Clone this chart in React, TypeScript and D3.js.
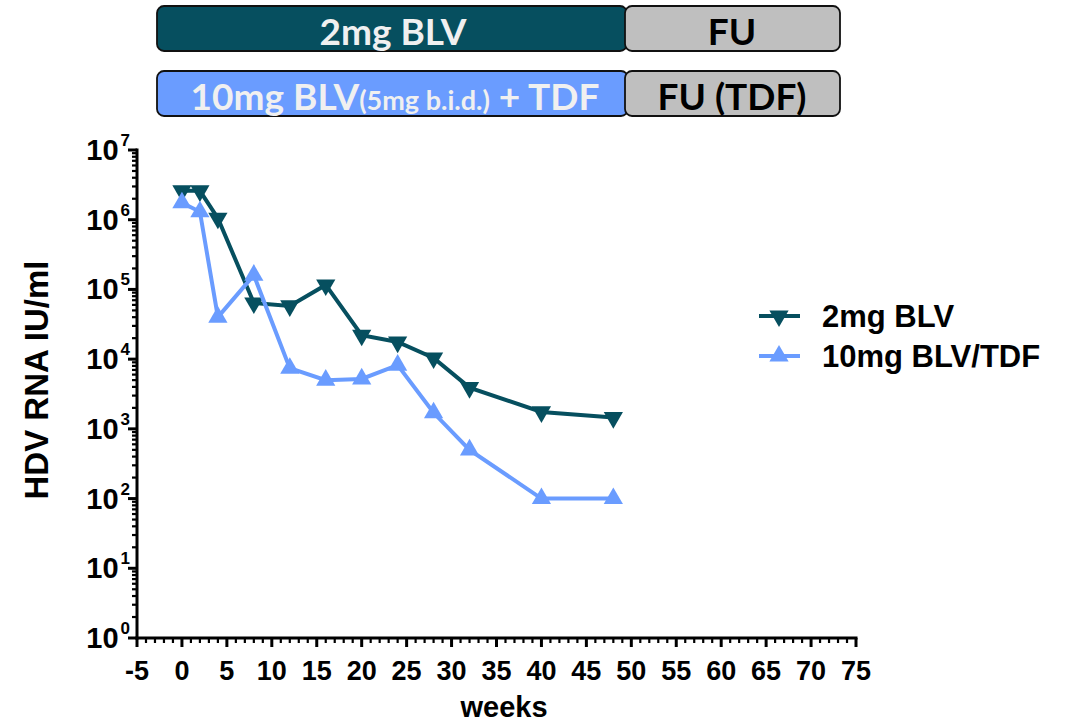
import React from "react";
import * as d3 from "d3";

// Study weeks and HDV RNA (IU/ml) for each arm
const weeks = [0, 2, 4, 8, 12, 16, 20, 24, 28, 32, 40, 48];
const blv2mg = [2.6e6, 2.6e6, 1.05e6, 6.4e4, 5.8e4, 1.16e5, 2.2e4, 1.76e4, 1.04e4, 3.9e3, 1.75e3, 1.45e3];
const blv10mgTdf = [1.75e6, 1.3e6, 4.0e4, 1.6e5, 7.4e3, 5.0e3, 5.2e3, 8.2e3, 1.7e3, 500, 100, 100];

const seriesNames = ["2mg BLV", "10mg BLV/TDF"];
const seriesColors = ["#064f5f", "#6a9cff"];

const xTicks = d3.range(-5, 76, 5);
const yExponents = [0, 1, 2, 3, 4, 5, 6, 7];

const W = 1069;
const H = 725;
const margin = { left: 137, right: 856, top: 150, bottom: 638 };

export default function App() {
  const x = d3.scaleLinear().domain([-5, 75]).range([margin.left, margin.right]);
  const y = d3.scaleLog().domain([1, 1e7]).range([margin.bottom, margin.top]);

  const line = d3
    .line<[number, number]>()
    .x((d) => x(d[0]))
    .y((d) => y(d[1]));

  const triUp = d3.symbol().type(d3.symbolTriangle).size(160)() as string;

  const series = [blv2mg, blv10mgTdf].map((vals) => weeks.map((w, i) => [w, vals[i]] as [number, number]));

  const minorX = d3.range(-5, 76, 1).filter((v) => v % 5 !== 0);
  const minorY: number[] = [];
  for (let e = 0; e < 7; e++) for (let m = 2; m <= 9; m++) minorY.push(m * Math.pow(10, e));

  const axisFont = "'Liberation Sans', Arial, sans-serif";
  const bannerFont = "Lato, 'Open Sans', sans-serif";

  const marker = (i: number, cx: number, cy: number, key: string) => (
    <path
      key={key}
      d={triUp}
      transform={`translate(${cx},${cy})${i === 0 ? " rotate(180)" : ""}`}
      fill={seriesColors[i]}
    />
  );

  return (
    <svg width={W} height={H} style={{ position: "absolute", left: 0, top: 0 }}>
      <rect width={W} height={H} fill="#fff" />

      {/* treatment banners */}
      <g stroke="#111" strokeWidth={1.8}>
        <rect x={157} y={6} width={470} height={45} rx={7} fill="#064f5f" />
        <rect x={625} y={6} width={215} height={45} rx={7} fill="#bfbfbf" />
        <rect x={157} y={71} width={471} height={45} rx={7} fill="#6a9cff" />
        <rect x={625} y={71} width={215} height={45} rx={7} fill="#bfbfbf" />
      </g>
      <g fontFamily={bannerFont} fontWeight={700} textAnchor="middle">
        <text x={393} y={45} fontSize={37} fill="#f0f0f0">2mg BLV</text>
        <text x={732} y={45} fontSize={37} fill="#000">FU</text>
        <text x={395} y={110} fill="#f0f0f0" fontSize={37}>
          10mg BLV<tspan fontSize={27}>(5mg b.i.d.)</tspan> + TDF
        </text>
        <text x={732} y={110} fontSize={37} fill="#000">FU (TDF)</text>
      </g>

      {/* axes */}
      <g stroke="#000" strokeWidth={3}>
        <line x1={margin.left} x2={margin.left} y1={margin.top - 1.5} y2={margin.bottom + 1.5} />
        <line x1={margin.left - 1.5} x2={margin.right + 1.5} y1={margin.bottom} y2={margin.bottom} />
        {xTicks.map((t) => (
          <line key={"xt" + t} x1={x(t)} x2={x(t)} y1={margin.bottom} y2={margin.bottom + 9} />
        ))}
        {yExponents.map((e) => (
          <line key={"yt" + e} x1={margin.left - 9} x2={margin.left} y1={y(Math.pow(10, e))} y2={y(Math.pow(10, e))} />
        ))}
      </g>
      <g stroke="#000" strokeWidth={2.2}>
        {minorX.map((t) => (
          <line key={"xm" + t} x1={x(t)} x2={x(t)} y1={margin.bottom} y2={margin.bottom + 5} />
        ))}
        {minorY.map((v) => (
          <line key={"ym" + v} x1={margin.left - 5} x2={margin.left} y1={y(v)} y2={y(v)} />
        ))}
      </g>

      <g fontFamily={axisFont} fontWeight={700} fill="#000">
        {xTicks.map((t) => (
          <text key={"xl" + t} x={x(t)} y={680} fontSize={27} textAnchor="middle">
            {t}
          </text>
        ))}
        {yExponents.map((e) => (
          <text key={"yl" + e} x={130} y={y(Math.pow(10, e)) + 10} fontSize={29} textAnchor="end">
            10
            <tspan fontSize={17} dx={2} dy={-14}>{e}</tspan>
          </text>
        ))}
        <text x={504} y={717} fontSize={29} textAnchor="middle">weeks</text>
        <text transform="translate(48,380) rotate(-90)" fontSize={33} textAnchor="middle">
          HDV RNA IU/ml
        </text>
      </g>

      {/* data */}
      {series.map((pts, i) => (
        <g key={"s" + i}>
          <path d={line(pts) || ""} fill="none" stroke={seriesColors[i]} strokeWidth={4} />
          {pts.map((p, j) => marker(i, x(p[0]), y(p[1]), `m${i}-${j}`))}
        </g>
      ))}

      {/* legend */}
      <g fontFamily={axisFont} fontWeight={700} fontSize={31}>
        {seriesNames.map((name, i) => {
          const ly = 316 + i * 40;
          return (
            <g key={"lg" + i}>
              <line x1={759} x2={800} y1={ly} y2={ly} stroke={seriesColors[i]} strokeWidth={4} />
              {marker(i, 779, ly, "lm" + i)}
              <text x={822} y={ly + 11} fill="#000">{name}</text>
            </g>
          );
        })}
      </g>
    </svg>
  );
}
